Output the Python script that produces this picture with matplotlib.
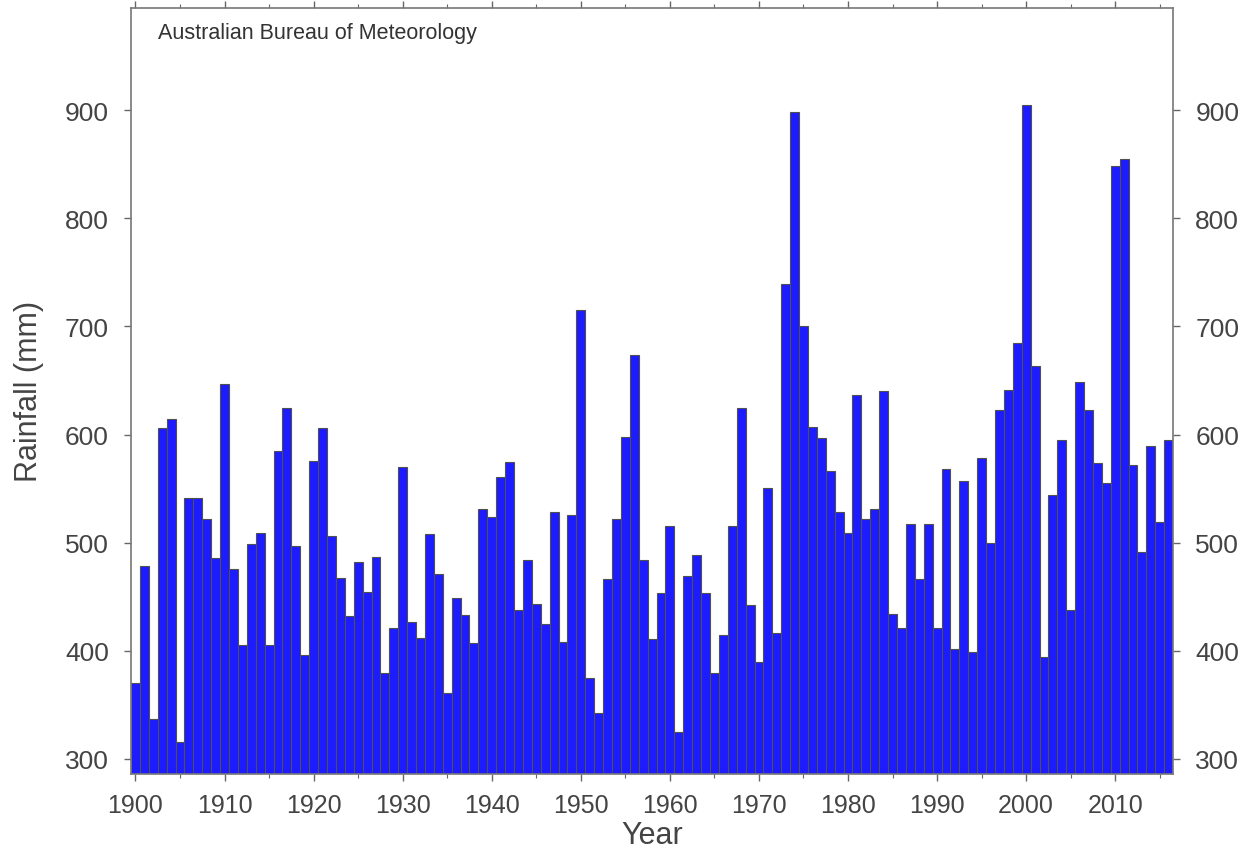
import matplotlib.pyplot as plt
from matplotlib.ticker import MultipleLocator

plt.rcParams['font.family'] = ['Liberation Sans', 'DejaVu Sans']

years = list(range(1900, 2017))
rainfall = [
    370, 478, 337, 606, 614, 316, 541, 541, 522, 486,   # 1900s
    647, 476, 405, 499, 509, 405, 585, 625, 497, 396,   # 1910s
    576, 606, 506, 467, 432, 482, 454, 487, 379, 421,   # 1920s
    570, 427, 412, 508, 471, 361, 449, 433, 407, 531,   # 1930s
    524, 561, 575, 438, 484, 443, 425, 528, 408, 526,   # 1940s
    715, 375, 342, 466, 522, 598, 674, 484, 411, 453,   # 1950s
    515, 325, 469, 489, 453, 379, 415, 515, 625, 442,   # 1960s
    390, 551, 416, 739, 898, 700, 607, 597, 566, 528,   # 1970s
    509, 637, 522, 531, 640, 434, 421, 517, 466, 517,   # 1980s
    421, 568, 402, 557, 399, 578, 500, 623, 641, 685,   # 1990s
    905, 663, 394, 544, 595, 438, 649, 623, 574, 555,   # 2000s
    848, 855, 572, 491, 589, 519, 595,                  # 2010s
]

grey = '#444444'

fig = plt.figure(figsize=(12.48, 8.54), dpi=100)
ax = fig.add_axes([0.105, 0.0925, 0.835, 0.8975])

ax.bar(years, rainfall, width=1.0, color='#1c1cff', edgecolor='#505050', linewidth=0.8)

ax.set_xlim(1899.5, 2016.5)
ax.set_ylim(286, 995)

ax.xaxis.set_major_locator(MultipleLocator(10))
ax.xaxis.set_minor_locator(MultipleLocator(5))
ax.yaxis.set_major_locator(MultipleLocator(100))

ax.tick_params(axis='both', which='both', direction='out', color='#666666',
               top=True, right=True, labelright=True, labelcolor=grey)
ax.tick_params(axis='both', which='major', length=5, width=1)
ax.tick_params(axis='x', which='minor', length=3, width=0.8)
ax.tick_params(axis='x', labelsize=18, pad=9)
ax.tick_params(axis='y', labelsize=19, pad=11)

for s in ax.spines.values():
    s.set_color('#777777')
    s.set_linewidth(1.2)

ax.set_xlabel('Year', fontsize=22, color=grey, labelpad=2)
ax.set_ylabel('Rainfall (mm)', fontsize=22, color=grey, labelpad=15)

ax.text(0.026, 0.981, 'Australian Bureau of Meteorology', transform=ax.transAxes,
        fontsize=15.5, color='#333333', ha='left', va='top')

fig.savefig('out.png', dpi=100)
